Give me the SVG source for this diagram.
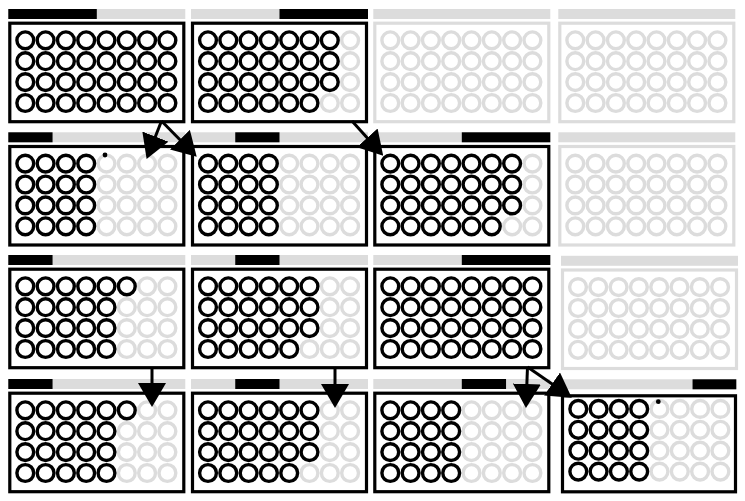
<svg xmlns="http://www.w3.org/2000/svg" xmlns:xlink="http://www.w3.org/1999/xlink" width="745" height="501" viewBox="0 0 745 501">
<style>
.hd{fill:#dcdcdc}
.hk{fill:#000}
.box{fill:none;stroke:#000;stroke-width:3.2}
.off{fill:none;stroke:#dcdcdc;stroke-width:3.2}
.k{fill:none;stroke:#000;stroke-width:3.4}
.g{fill:none;stroke:#dcdcdc;stroke-width:3.4}
.wire{fill:none;stroke:#000;stroke-width:3}
</style>
<defs>
<marker id="ah" markerUnits="userSpaceOnUse" markerWidth="24" markerHeight="28" refX="12" refY="14" orient="auto" viewBox="0 0 24 28"><path d="M0,0 L24,14 L0,28 z" fill="#000"/></marker>
<g id="r8"><circle class="k" cx="17" r="8.4"/><circle class="k" cx="37.3" r="8.4"/><circle class="k" cx="57.6" r="8.4"/><circle class="k" cx="77.9" r="8.4"/><circle class="k" cx="98.2" r="8.4"/><circle class="k" cx="118.5" r="8.4"/><circle class="k" cx="138.8" r="8.4"/><circle class="k" cx="159.1" r="8.4"/></g>
<g id="r7"><circle class="g" cx="159.1" r="8.4"/><circle class="k" cx="17" r="8.4"/><circle class="k" cx="37.3" r="8.4"/><circle class="k" cx="57.6" r="8.4"/><circle class="k" cx="77.9" r="8.4"/><circle class="k" cx="98.2" r="8.4"/><circle class="k" cx="118.5" r="8.4"/><circle class="k" cx="138.8" r="8.4"/></g>
<g id="r6"><circle class="g" cx="138.8" r="8.4"/><circle class="g" cx="159.1" r="8.4"/><circle class="k" cx="17" r="8.4"/><circle class="k" cx="37.3" r="8.4"/><circle class="k" cx="57.6" r="8.4"/><circle class="k" cx="77.9" r="8.4"/><circle class="k" cx="98.2" r="8.4"/><circle class="k" cx="118.5" r="8.4"/></g>
<g id="r5"><circle class="g" cx="118.5" r="8.4"/><circle class="g" cx="138.8" r="8.4"/><circle class="g" cx="159.1" r="8.4"/><circle class="k" cx="17" r="8.4"/><circle class="k" cx="37.3" r="8.4"/><circle class="k" cx="57.6" r="8.4"/><circle class="k" cx="77.9" r="8.4"/><circle class="k" cx="98.2" r="8.4"/></g>
<g id="r4"><circle class="g" cx="98.2" r="8.4"/><circle class="g" cx="118.5" r="8.4"/><circle class="g" cx="138.8" r="8.4"/><circle class="g" cx="159.1" r="8.4"/><circle class="k" cx="17" r="8.4"/><circle class="k" cx="37.3" r="8.4"/><circle class="k" cx="57.6" r="8.4"/><circle class="k" cx="77.9" r="8.4"/></g>
<g id="r0"><circle class="g" cx="17" r="8.4"/><circle class="g" cx="37.3" r="8.4"/><circle class="g" cx="57.6" r="8.4"/><circle class="g" cx="77.9" r="8.4"/><circle class="g" cx="98.2" r="8.4"/><circle class="g" cx="118.5" r="8.4"/><circle class="g" cx="138.8" r="8.4"/><circle class="g" cx="159.1" r="8.4"/></g>
</defs>
<rect width="745" height="501" fill="#fff"/>

<g id="p11" transform="translate(8.3,21.7)">
<rect class="hd" y="-12.7" width="177" height="10"/><rect class="hk" y="-12.7" width="88.5" height="10"/>
<rect class="box" x="1.5" y="1.5" width="174" height="98.5"/>
<use href="#r8" y="18.6"/><use href="#r8" y="39.5"/><use href="#r8" y="60.4"/><use href="#r8" y="81.3"/>
</g>
<g id="p12" transform="translate(191,21.7)">
<rect class="hd" y="-12.7" width="177" height="10"/><rect class="hk" x="88.5" y="-12.7" width="88.5" height="10"/>
<rect class="box" x="1.5" y="1.5" width="174" height="98.5"/>
<use href="#r7" y="18.6"/><use href="#r7" y="39.5"/><use href="#r7" y="60.4"/><use href="#r6" y="81.3"/>
</g>
<g id="p13" transform="translate(373.3,21.7)">
<rect class="hd" y="-12.7" width="177" height="10"/>
<rect class="off" x="1.5" y="1.5" width="174" height="98.5"/>
<use href="#r0" y="18.6"/><use href="#r0" y="39.5"/><use href="#r0" y="60.4"/><use href="#r0" y="81.3"/>
</g>
<g id="p14" transform="translate(558.3,21.7)">
<rect class="hd" y="-12.7" width="177" height="10"/>
<rect class="off" x="1.5" y="1.5" width="174" height="98.5"/>
<use href="#r0" y="18.6"/><use href="#r0" y="39.5"/><use href="#r0" y="60.4"/><use href="#r0" y="81.3"/>
</g>

<g id="p21" transform="translate(8.3,145)">
<rect class="hd" y="-12.7" width="177" height="10"/><rect class="hk" y="-12.7" width="44.25" height="10"/>
<rect class="box" x="1.5" y="1.5" width="174" height="98.5"/>
<use href="#r4" y="18.6"/><use href="#r4" y="39.5"/><use href="#r4" y="60.4"/><use href="#r4" y="81.3"/>
<circle cx="96.7" cy="10" r="2.4" fill="#000"/>
</g>
<g id="p22" transform="translate(191,145)">
<rect class="hd" y="-12.7" width="177" height="10"/><rect class="hk" x="44.25" y="-12.7" width="44.25" height="10"/>
<rect class="box" x="1.5" y="1.5" width="174" height="98.5"/>
<use href="#r4" y="18.6"/><use href="#r4" y="39.5"/><use href="#r4" y="60.4"/><use href="#r4" y="81.3"/>
</g>
<g id="p23" transform="translate(373.3,145)">
<rect class="hd" y="-12.7" width="177" height="10"/><rect class="hk" x="88.5" y="-12.7" width="88.5" height="10"/>
<rect class="box" x="1.5" y="1.5" width="174" height="98.5"/>
<use href="#r7" y="18.6"/><use href="#r7" y="39.5"/><use href="#r7" y="60.4"/><use href="#r6" y="81.3"/>
</g>
<g id="p24" transform="translate(558.3,145)">
<rect class="hd" y="-12.7" width="177" height="10"/>
<rect class="off" x="1.5" y="1.5" width="174" height="98.5"/>
<use href="#r0" y="18.6"/><use href="#r0" y="39.5"/><use href="#r0" y="60.4"/><use href="#r0" y="81.3"/>
</g>

<g id="p31" transform="translate(8.3,267.7)">
<rect class="hd" y="-12.7" width="177" height="10"/><rect class="hk" y="-12.7" width="44.25" height="10"/>
<rect class="box" x="1.5" y="1.5" width="174" height="98.5"/>
<use href="#r6" y="18.6"/><use href="#r5" y="39.5"/><use href="#r5" y="60.4"/><use href="#r5" y="81.3"/>
</g>
<g id="p32" transform="translate(191,267.7)">
<rect class="hd" y="-12.7" width="177" height="10"/><rect class="hk" x="44.25" y="-12.7" width="44.25" height="10"/>
<rect class="box" x="1.5" y="1.5" width="174" height="98.5"/>
<use href="#r6" y="18.6"/><use href="#r6" y="39.5"/><use href="#r6" y="60.4"/><use href="#r5" y="81.3"/>
</g>
<g id="p33" transform="translate(373.3,267.7)">
<rect class="hd" y="-12.7" width="177" height="10"/><rect class="hk" x="88.5" y="-12.7" width="88.5" height="10"/>
<rect class="box" x="1.5" y="1.5" width="174" height="98.5"/>
<use href="#r8" y="18.6"/><use href="#r8" y="39.5"/><use href="#r8" y="60.4"/><use href="#r8" y="81.3"/>
</g>
<g id="p34" transform="translate(561,268.5)">
<rect class="hd" y="-12.7" width="177" height="10"/>
<rect class="off" x="1.5" y="1.5" width="174" height="98.5"/>
<use href="#r0" y="18.6"/><use href="#r0" y="39.5"/><use href="#r0" y="60.4"/><use href="#r0" y="81.3"/>
</g>

<g id="p41" transform="translate(8.3,391.7)">
<rect class="hd" y="-12.7" width="177" height="10"/><rect class="hk" y="-12.7" width="44.25" height="10"/>
<rect class="box" x="1.5" y="1.5" width="174" height="98.5"/>
<use href="#r6" y="18.6"/><use href="#r5" y="39.5"/><use href="#r5" y="60.4"/><use href="#r5" y="81.3"/>
</g>
<g id="p42" transform="translate(191,391.7)">
<rect class="hd" y="-12.7" width="177" height="10"/><rect class="hk" x="44.25" y="-12.7" width="44.25" height="10"/>
<rect class="box" x="1.5" y="1.5" width="174" height="98.5"/>
<use href="#r6" y="18.6"/><use href="#r6" y="39.5"/><use href="#r6" y="60.4"/><use href="#r5" y="81.3"/>
</g>
<g id="p43" transform="translate(373.3,391.7)">
<rect class="hd" y="-12.7" width="177" height="10"/><rect class="hk" x="88.5" y="-12.7" width="44.25" height="10"/>
<rect class="box" x="1.5" y="1.5" width="174" height="98.5"/>
<use href="#r4" y="18.6"/><use href="#r4" y="39.5"/><use href="#r4" y="60.4"/><use href="#r4" y="81.3"/>
</g>
<g id="p44" transform="translate(561.3,390.3)">
<rect class="hd" y="-11" width="175" height="10"/><rect class="hk" x="131.25" y="-11" width="43.75" height="10"/>
<rect class="box" x="1.2" y="5.5" width="173" height="96"/>
<use href="#r4" y="18.6"/><use href="#r4" y="39.5"/><use href="#r4" y="60.4"/><use href="#r4" y="81.3"/>
<circle cx="97" cy="11.4" r="2.4" fill="#000"/>
</g>

<g id="connectors" class="wire" marker-end="url(#ah)">
<line x1="161.5" y1="121" x2="151" y2="147.8"/>
<line x1="161.5" y1="121" x2="188.3" y2="148.2"/>
<line x1="352" y1="121" x2="375.2" y2="146.8"/>
<line x1="152" y1="368" x2="152" y2="395"/>
<line x1="335" y1="368" x2="335" y2="396"/>
<line x1="527.5" y1="367" x2="526.4" y2="396"/>
<line x1="527.5" y1="367" x2="561.9" y2="390.8"/>
</g>
</svg>
